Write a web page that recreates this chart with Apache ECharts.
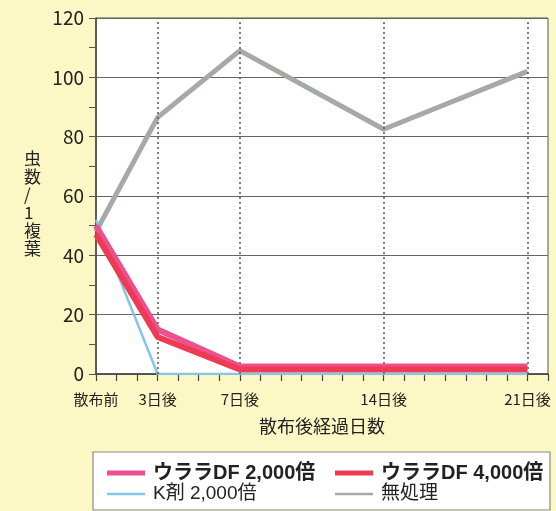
<!DOCTYPE html>
<html>
<head>
<meta charset="utf-8">
<script src="https://cdn.jsdelivr.net/npm/echarts@6/dist/echarts.min.js"></script>
<style>
  html, body { margin: 0; padding: 0; background: #fcf8c6; }
  #chart { width: 556px; height: 511px; }
</style>
</head>
<body>
<div id="chart"></div>
<script>
// Days after spraying (0 = before spraying)
const days = [0, 3, 7, 14, 21];
const dayLabels = { 0: '散布前', 3: '3日後', 7: '7日後', 14: '14日後', 21: '21日後' };
const yTicks = [0, 20, 40, 60, 80, 100, 120];

// Insects per compound leaf
const untreated = [48, 86.5, 109, 82.5, 102];
const kAgent2000 = [52, 0, 0, 0, 0];
const urara2000 = [50, 15, 2.5, 2.5, 2.5];
const urara4000 = [47, 12.5, 1.5, 1.5, 1.5];

const names = ['ウララDF 2,000倍', 'ウララDF 4,000倍', 'K剤 2,000倍', '無処理'];
const colors = ['#ee4f8e', '#ec3b52', '#84c6ea', '#a5aaa7'];

const FONT = '"Noto Sans CJK JP", "Noto Sans", sans-serif';
const LEGEND_FONT = '"Liberation Sans", "Noto Sans CJK JP", sans-serif';
const pts = vals => days.map((d, i) => [d, vals[i]]);

const chart = echarts.init(document.getElementById('chart'), null, { renderer: 'canvas' });

function legendItem(name, color, left, top, thick, bold) {
  return {
    data: [name],
    left: left,
    top: top,
    icon: 'rect',
    itemWidth: 38,
    itemHeight: thick ? 5 : 2.5,
    padding: 0,
    selectedMode: false,
    itemStyle: { color: color },
    textStyle: {
      fontFamily: LEGEND_FONT,
      fontSize: bold ? 20 : 19,
      lineHeight: 22,
      fontWeight: bold ? 'bold' : 'normal',
      color: '#222',
      padding: [0, 0, 0, 3]
    }
  };
}

chart.setOption({
  animation: false,
  backgroundColor: '#fcf8c6',
  grid: {
    left: 96, right: 8, top: 18, bottom: 137,
    show: true, backgroundColor: '#ffffff',
    borderColor: '#555', borderWidth: 1
  },
  graphic: [
    {
      type: 'rect', z: 0,
      shape: { x: 93, y: 452, width: 457, height: 58 },
      style: { fill: '#ffffff', stroke: '#8a8a80', lineWidth: 1.2 }
    },
    {
      type: 'text', left: 24, top: 150,
      style: {
        text: '虫\n数\n/\n1\n複\n葉',
        font: '17px ' + FONT, fill: '#222',
        lineHeight: 18, align: 'center'
      }
    }
  ],
  legend: [
    legendItem(names[0], colors[0], 107, 462, true, true),
    legendItem(names[1], colors[1], 335, 462, true, true),
    legendItem(names[2], colors[2], 107, 483, false, false),
    legendItem(names[3], colors[3], 335, 483, false, false)
  ],
  xAxis: {
    type: 'value', min: 0, max: 22, interval: 1,
    name: '散布後経過日数', nameLocation: 'middle', nameGap: 43,
    nameTextStyle: { fontFamily: FONT, fontSize: 18, color: '#222' },
    axisLine: { show: true, onZero: false, lineStyle: { color: '#444', width: 1.5 } },
    axisTick: { show: true, interval: 0, length: 7, lineStyle: { color: '#444', width: 1.2 } },
    axisLabel: {
      fontFamily: FONT, fontSize: 15, color: '#222', margin: 18,
      formatter: v => dayLabels[v] || ''
    },
    splitLine: { show: false }
  },
  yAxis: {
    type: 'value', min: yTicks[0], max: yTicks[yTicks.length - 1], interval: 20,
    axisLine: { show: true, lineStyle: { color: '#444', width: 1.5 } },
    axisTick: { show: true, length: 7, lineStyle: { color: '#555', width: 1 } },
    minorTick: { show: true, splitNumber: 2, length: 7, lineStyle: { color: '#555', width: 1 } },
    axisLabel: { fontFamily: FONT, fontSize: 19, color: '#222', margin: 12 },
    splitLine: { show: true, lineStyle: { color: '#666', width: 1.2 } }
  },
  series: [
    {
      name: '_days', type: 'line', data: [], silent: true,
      markLine: {
        symbol: 'none', silent: true, label: { show: false },
        lineStyle: { type: [2, 3], color: '#555', width: 1.5 },
        data: days.slice(1).map(d => ({ xAxis: d }))
      }
    },
    {
      name: names[3], type: 'line', data: pts(untreated), showSymbol: false,
      color: colors[3], lineStyle: { width: 5, color: colors[3] }, z: 3
    },
    {
      name: names[2], type: 'line', data: pts(kAgent2000), showSymbol: false,
      color: colors[2], lineStyle: { width: 2.5, color: colors[2] }, z: 4
    },
    {
      name: names[0], type: 'line', data: pts(urara2000), showSymbol: false,
      color: colors[0], lineStyle: { width: 6, color: colors[0] }, z: 5
    },
    {
      name: names[1], type: 'line', data: pts(urara4000), showSymbol: false,
      color: colors[1], lineStyle: { width: 6, color: colors[1] }, z: 6
    }
  ]
});
</script>
</body>
</html>
